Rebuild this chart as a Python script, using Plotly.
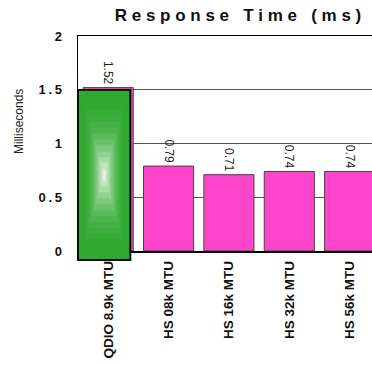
import plotly.graph_objects as go

categories = ["QDIO 8.9k MTU", "HS 08k MTU", "HS 16k MTU", "HS 32k MTU", "HS 56k MTU"]
values = [1.52, 0.79, 0.71, 0.74, 0.74]
value_labels = ["1.52", "0.79", "0.71", "0.74", "0.74"]
y_ticks = [0, 0.5, 1, 1.5, 2]
y_tick_labels = ["0", "0.5", "1", "1.5", "2"]
highlight_index = 0
title_text = "Response Time (ms)"
y_title = "Milliseconds"

W, H = 372, 366
ML, MR, MT, MB = 78, 0, 36, 115
x_range = [-0.5, 4.37]
y_range = [0, 2]
FONT = "Liberation Sans, Arial, sans-serif"
SP = "\u00a0"
THIN = "\u2009"

def spaced(s, sep=SP):
    return sep.join(s.replace(" ", SP))

fig = go.Figure()
fig.add_trace(go.Bar(
    x=list(range(len(categories))),
    y=values,
    text=value_labels,
    textposition="outside",
    textangle=90,
    constraintext="none",
    cliponaxis=False,
    textfont=dict(family=FONT, size=12, color="#222"),
    marker=dict(color="#ff44cc", line=dict(color="#444", width=1)),
    width=0.83,
    hoverinfo="skip",
))

pw = W - ML - MR
ph = H - MT - MB
def px_x(v):
    return (v - x_range[0]) / (x_range[1] - x_range[0])
def px_y(v):
    return (v - y_range[0]) / (y_range[1] - y_range[0])

hx0 = px_x(highlight_index - 0.5)
hx1 = px_x(highlight_index + 0.368)
hy1 = px_y(1.5)
hy0 = -9 / ph
shapes = []
shapes.append(dict(type="rect", xref="paper", yref="paper", x0=hx0, x1=hx1, y0=hy0, y1=hy1,
                   fillcolor="#2ea82e", line=dict(color="#000", width=1.5), layer="above"))
n = 14
cx = (hx0 + hx1) / 2
cy = (hy0 + hy1) / 2
for i in range(1, n):
    f = i / n
    hw = (hx1 - hx0) / 2 * (1 - f) * 0.92
    hh = (hy1 - hy0) / 2 * (1 - f) * 0.97
    t = f ** 2.2
    r = int(0x2e + (255 - 0x2e) * t)
    g = int(0xa8 + (255 - 0xa8) * t)
    b = int(0x2e + (255 - 0x2e) * t)
    shapes.append(dict(type="rect", xref="paper", yref="paper",
                       x0=cx - hw, x1=cx + hw, y0=cy - hh, y1=cy + hh,
                       fillcolor=f"rgb({r},{g},{b})", line=dict(width=0), layer="above"))
shapes.append(dict(type="rect", xref="paper", yref="paper", x0=hx0, x1=hx1, y0=hy0, y1=hy1,
                   fillcolor="rgba(0,0,0,0)", line=dict(color="#000", width=1.5), layer="above"))

fig.update_layout(
    width=W, height=H,
    margin=dict(l=ML, r=MR, t=MT, b=MB, pad=0),
    paper_bgcolor="white", plot_bgcolor="white",
    showlegend=False,
    shapes=shapes,
    title=dict(text=spaced(title_text),
               x=238 / W, xanchor="center", xref="container", y=1 - 15 / H, yanchor="middle",
               yref="container",
               font=dict(family=FONT, size=17, color="#111", weight="bold")),
    xaxis=dict(
        range=x_range,
        tickmode="array", tickvals=list(range(len(categories))), ticktext=categories,
        tickangle=-90,
        tickfont=dict(family=FONT, size=13.5, color="#111", weight="bold"),
        showline=True, linecolor="#000", linewidth=1.5, mirror=True,
        ticks="outside", ticklen=3, tickcolor="rgba(0,0,0,0)",
        showgrid=False, zeroline=False, fixedrange=True, automargin=False,
    ),
    yaxis=dict(
        range=y_range,
        tickmode="array", tickvals=y_ticks, ticktext=[spaced(t, THIN) for t in y_tick_labels],
        tickfont=dict(family=FONT, size=13, color="#111", weight="bold"),
        showline=True, linecolor="#000", linewidth=1.5, mirror=True,
        ticks="outside", ticklen=12, tickcolor="rgba(0,0,0,0)",
        showgrid=True, gridcolor="#555", gridwidth=1,
        zeroline=False, fixedrange=True, automargin=False,
    ),
    annotations=[dict(
        text=y_title, xref="paper", yref="paper",
        x=-(ML - 19) / pw, y=1 - (122 - MT) / ph, xanchor="center", yanchor="middle",
        textangle=-90, showarrow=False,
        font=dict(family=FONT, size=12, color="#222"),
    )],
)

fig.write_html("out.html", config={"displayModeBar": False, "staticPlot": True},
               post_script="document.body.style.margin='0';document.body.style.padding='0';")
